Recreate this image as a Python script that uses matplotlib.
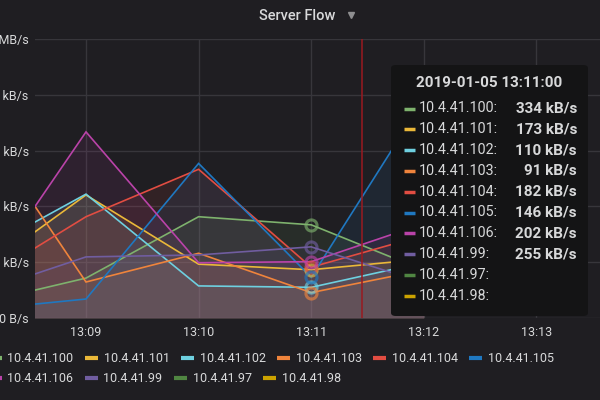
import matplotlib
matplotlib.use('Agg')
import matplotlib.pyplot as plt
import matplotlib.dates as mdates
from matplotlib.patches import FancyBboxPatch
from matplotlib.lines import Line2D
import numpy as np
import pandas as pd

# ---------------- data ----------------
times = ['2019-01-05 13:08', '2019-01-05 13:09', '2019-01-05 13:10',
         '2019-01-05 13:11', '2019-01-05 13:12']
series_names = ['10.4.41.100', '10.4.41.101', '10.4.41.102', '10.4.41.103',
                '10.4.41.104', '10.4.41.105', '10.4.41.106', '10.4.41.99',
                '10.4.41.97', '10.4.41.98']
colors = ['#7EB26D', '#EAB839', '#6ED0E0', '#EF843C', '#E24D42',
          '#1F78C1', '#BA43A9', '#705DA0', '#508642', '#CCA300']
nan = np.nan
v_100 = [48, 143, 363, 334, 171]
v_101 = [149, 441, 193, 173, 211]
v_102 = [223, 444, 115, 110, 199]
v_103 = [728, 129, 232, 91, 172]
v_104 = [115, 363, 533, 182, 296]
v_105 = [28, 68, 554, 146, 783]
v_106 = [77, 667, 198, 202, 338]
v_99 = [84, 219, 226, 255, 126]
v_97 = [nan, nan, nan, nan, nan]
v_98 = [nan, nan, nan, nan, nan]
values = [v_100, v_101, v_102, v_103, v_104, v_105, v_106, v_99, v_97, v_98]

y_ticks = [0, 200, 400, 600, 800, 1000]
y_tick_labels = ['0 B/s', '200 kB/s', '400 kB/s', '600 kB/s', '800 kB/s', '1.0 MB/s']
x_ticks = ['2019-01-05 13:09', '2019-01-05 13:10', '2019-01-05 13:11',
           '2019-01-05 13:12', '2019-01-05 13:13']
hover_time = '2019-01-05 13:11:00'
hover_index = 3
cursor_time = '2019-01-05 13:11:27'
title = 'Server Flow'

# ---------------- style ----------------
BG = '#1f1e22'
GRID = '#37363b'
TEXT = '#d8d9da'
W, H = 600, 400

def fx(x):
    return x / W

def fy(y):
    return 1 - y / H

t = pd.to_datetime(times)
fig = plt.figure(figsize=(6, 4), dpi=100, facecolor=BG)
ax = fig.add_axes([fx(35), fy(318), fx(600 - 35), (318 - 39) / H])
ax.set_facecolor(BG)

for vals, c in zip(values, colors):
    v = np.array(vals, dtype=float)
    ax.fill_between(t, 0, v, color=c, alpha=0.1, linewidth=0, zorder=2)
    ax.plot(t, v, color=c, lw=1.2, zorder=3, solid_joinstyle='miter')
    if not np.isnan(v[hover_index]):
        ax.plot([t[hover_index]], [v[hover_index]], 'o', ms=8, mfc='none',
                mec=c, mew=2.2, alpha=0.65, zorder=4)

# axis limits (pixel-derived)
tick09 = pd.Timestamp('2019-01-05 13:09')
minute = pd.Timedelta(minutes=1)
ax.set_xlim(tick09 - minute * (51 / 112.6), tick09 + minute * ((600 - 86) / 112.6))
ax.set_ylim(0, 1000)

ax.set_yticks(y_ticks)
ax.set_yticklabels(y_tick_labels)
ax.set_xticks(pd.to_datetime(x_ticks))
ax.xaxis.set_major_formatter(mdates.DateFormatter('%H:%M'))
ax.tick_params(axis='both', length=0, colors=TEXT, labelsize=9)
ax.tick_params(axis='x', pad=6)
ax.tick_params(axis='y', pad=4.5)
for lab in ax.get_xticklabels() + ax.get_yticklabels():
    lab.set_fontfamily('Roboto')
ax.grid(True, color=GRID, lw=1, zorder=1)
ax.set_axisbelow(True)
for s in ax.spines.values():
    s.set_visible(False)

ax.axvline(pd.Timestamp(cursor_time), color='#9a1a20', lw=1.1, zorder=5)

# title
fig.text(fx(297), fy(16), title, ha='center', va='center', color=TEXT,
         fontsize=10.5, fontfamily='Roboto', fontweight='medium')
fig.add_artist(Line2D([fx(351)], [fy(15)], marker='v', ms=4.5, color='#8e8e90',
                      transform=fig.transFigure, linestyle='none'))

# tooltip
box = FancyBboxPatch((fx(391), fy(316)), fx(588 - 391), (316 - 65) / H,
                     boxstyle='round,pad=0,rounding_size=0.008',
                     transform=fig.transFigure, facecolor='#141415',
                     edgecolor='none', zorder=10)
fig.add_artist(box)
fig.text(fx(489), fy(83), hover_time, ha='center', va='center', color=TEXT,
         fontsize=11, fontfamily='Roboto', fontweight='bold', zorder=11)
row_y0, row_dy = 108.5, 20.8
for i, (name, vals, c) in enumerate(zip(series_names, values, colors)):
    y = row_y0 + i * row_dy
    fig.add_artist(Line2D([fx(404), fx(415)], [fy(y), fy(y)], color=c, lw=2.5,
                          transform=fig.transFigure, zorder=11,
                          solid_capstyle='butt'))
    fig.text(fx(419), fy(y), name + ':', ha='left', va='center', color=TEXT,
             fontsize=10.3, fontfamily='Roboto', zorder=11)
    v = vals[hover_index]
    if not np.isnan(v):
        fig.text(fx(577), fy(y), f'{v:.0f} kB/s', ha='right', va='center',
                 color=TEXT, fontsize=11, fontfamily='Roboto',
                 fontweight='bold', zorder=11)

# legend (flow layout)
renderer = fig.canvas.get_renderer()
rows = [series_names[:6], series_names[6:]]
row_ys = [358, 378]
k = 0
for names, ry in zip(rows, row_ys):
    x = -11.0
    for name in names:
        c = colors[k]
        k += 1
        fig.add_artist(Line2D([fx(x), fx(x + 13)], [fy(ry), fy(ry)], color=c,
                              lw=3, transform=fig.transFigure,
                              solid_capstyle='butt'))
        x += 13 + 5.5
        txt = fig.text(fx(x), fy(ry), name, ha='left', va='center', color=TEXT,
                       fontsize=9, fontfamily='Roboto')
        wpx = txt.get_window_extent(renderer).width
        x += wpx + 11.5

fig.savefig('out.png', dpi=100, facecolor=BG)
